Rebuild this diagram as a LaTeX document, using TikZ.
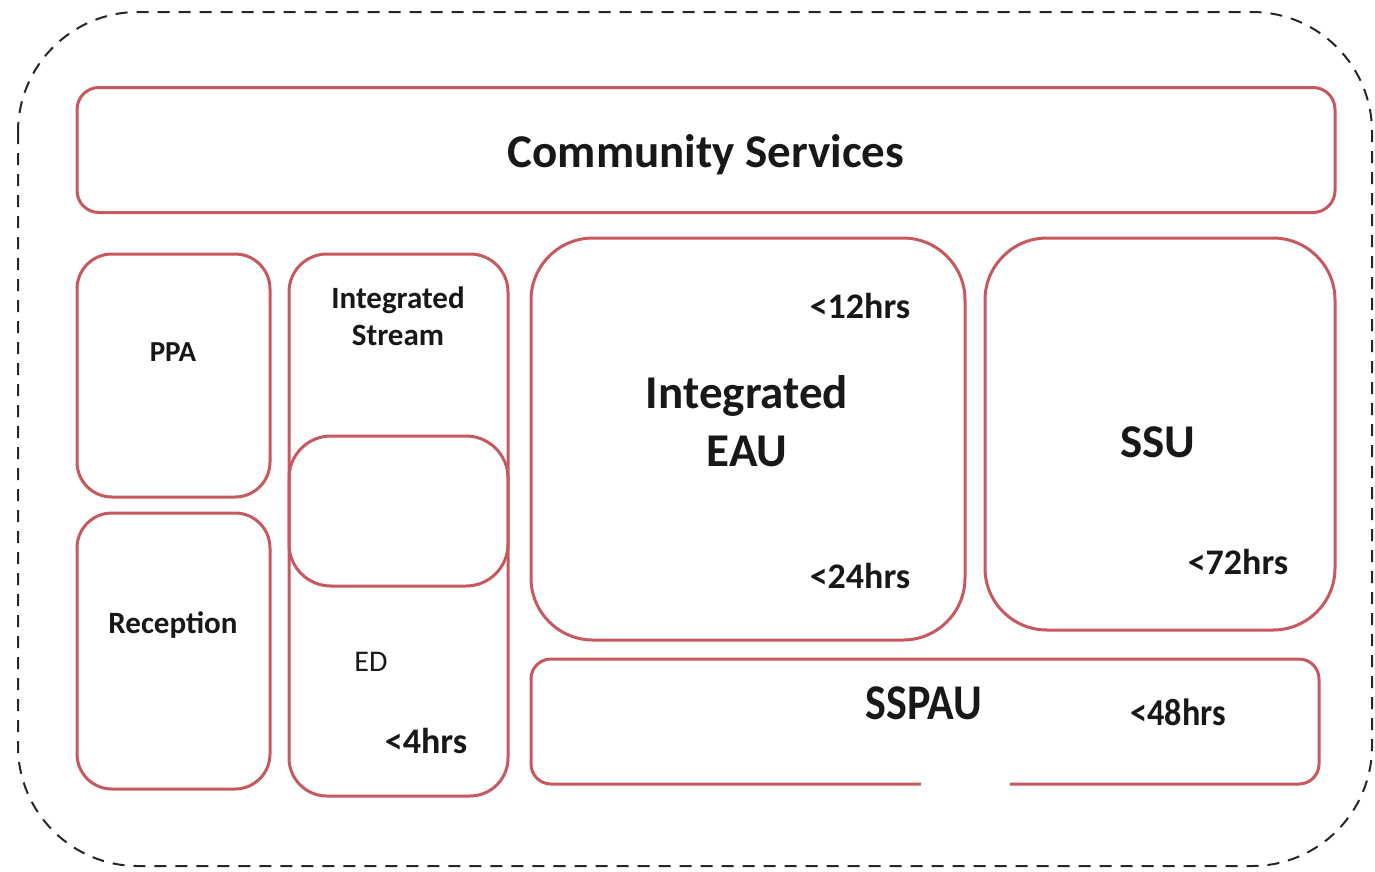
\documentclass[tikz,border=0pt]{standalone}
\usepackage{fontspec}
\setmainfont{Carlito}
\begin{document}
\begin{tikzpicture}[x=1pt,y=-1pt,
  unit/.style={draw=unitred, line width=3pt, rounded corners=#1, inner sep=0pt},
  unit/.default=35pt,
  lbl/.style={text=ink, inner sep=0pt, font=\bfseries\fontsize{#1}{#1}\selectfont},
  lbl/.default=31,
]
\definecolor{unitred}{RGB}{198,88,94}
\definecolor{ink}{RGB}{24,24,24}
\useasboundingbox (0,0) rectangle (1375,871);

% outer dashed boundary of the service
\draw[black!85, line width=2pt, dash pattern=on 12pt off 9pt, rounded corners=120pt]
  (18,12) rectangle (1372,866);

% unit boxes
\node[unit=22pt, minimum width=1258pt, minimum height=125pt] (cs)  at (706,150) {};
\node[unit, minimum width=193pt, minimum height=243pt] (ppa) at (173.5,375.5) {};
\node[unit, minimum width=193pt, minimum height=276pt] (rec) at (173.5,651) {};
\node[unit=38pt, minimum width=219pt, minimum height=542pt] (ist) at (398.5,525) {};
\node[unit=42pt, minimum width=219pt, minimum height=150pt] (inner) at (398.5,511) {};
\node[unit=62pt, minimum width=434pt, minimum height=402pt] (eau) at (748,439) {};
\node[unit=62pt, minimum width=350pt, minimum height=392pt] (ssu) at (1160,434) {};
\node[unit=20pt, minimum width=788pt, minimum height=125pt] (sspau) at (925,721.5) {};
\fill[white] (921,779) rectangle (1010,790);

% labels
\node[lbl=47] (tcs) at (706,155) {Community Services};
\node[lbl=29] (tppa) at (173,352) {PPA};
\node[lbl=31] (trec) at (173,625) {Reception};
\node[lbl=31, align=center, font=\bfseries\fontsize{31}{37}\selectfont] (tist) at (398,316) {Integrated\\Stream};
\node[text=ink, inner sep=0pt, font=\fontsize{30}{30}\selectfont] (ted) at (371,662) {ED};
\node[lbl=36] (t4) at (426,741) {<4hrs};
\node[lbl=36] (t12) at (860,306) {<12hrs};
\node[lbl=47, align=center, font=\bfseries\fontsize{47}{58}\selectfont] (teau) at (747,421) {Integrated\\EAU};
\node[lbl=36] (t24) at (860,576) {<24hrs};
\node[lbl=47] (tssu) at (1158,442) {SSU};
\node[lbl=36] (t72) at (1238,562) {<72hrs};
\node[lbl=50, xscale=0.88] (tsspau) at (924,703) {SSPAU};
\node[lbl=38, xscale=0.9] (t48) at (1178,712) {<48hrs};
\end{tikzpicture}
\end{document}
